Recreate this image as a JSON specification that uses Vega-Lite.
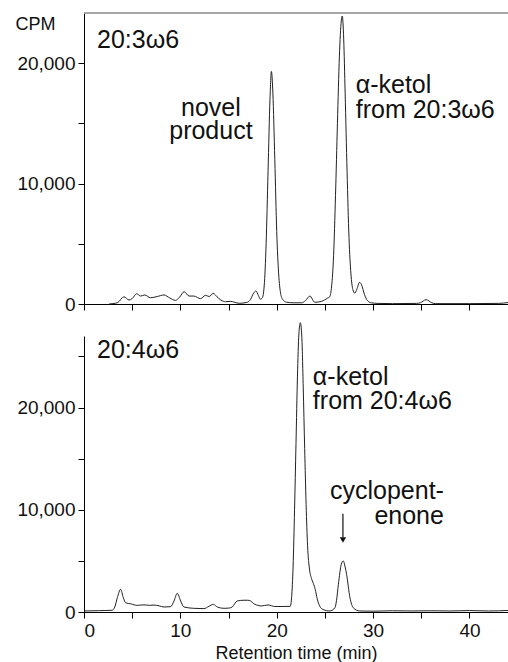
{
  "$schema": "https://vega.github.io/schema/vega-lite/v6.json",
  "padding": {"left": 15, "top": 12, "right": 0, "bottom": 0},
  "autosize": {"type": "pad"},
  "spacing": 32,
  "bounds": "flush",
  "config": {
    "font": "Liberation Sans",
    "view": {"stroke": null},
    "axis": {"domainColor": "#000", "tickColor": "#000", "labelColor": "#111", "titleColor": "#111", "labelFontSize": 19, "titleFontSize": 18, "titleFontWeight": "normal", "grid": false, "tickSize": 6, "labelPadding": 3, "domainWidth": 1, "tickWidth": 1}
  },
  "datasets": {
    "top": [
      {"t":2.6,"cpm":0},{"t":3.0,"cpm":30},{"t":3.5,"cpm":120},{"t":4.15,"cpm":600},{"t":4.67,"cpm":330},{"t":5.0,"cpm":450},{"t":5.46,"cpm":850},{"t":5.88,"cpm":660},{"t":6.3,"cpm":750},{"t":6.9,"cpm":520},{"t":7.6,"cpm":620},{"t":8.3,"cpm":750},{"t":8.9,"cpm":500},{"t":9.5,"cpm":300},{"t":9.9,"cpm":550},{"t":10.4,"cpm":1020},{"t":10.9,"cpm":660},{"t":11.4,"cpm":660},{"t":12.1,"cpm":440},{"t":12.6,"cpm":720},{"t":13.0,"cpm":620},{"t":13.4,"cpm":890},{"t":13.8,"cpm":600},{"t":14.2,"cpm":330},{"t":14.7,"cpm":190},{"t":15.2,"cpm":220},{"t":16.1,"cpm":60},{"t":16.9,"cpm":130},{"t":17.3,"cpm":400},{"t":17.6,"cpm":900},{"t":17.85,"cpm":1080},{"t":18.1,"cpm":700},{"t":18.3,"cpm":400},{"t":18.5,"cpm":500},{"t":18.7,"cpm":1500},{"t":18.9,"cpm":5000},{"t":19.1,"cpm":11000},{"t":19.3,"cpm":17000},{"t":19.45,"cpm":19300},{"t":19.6,"cpm":17500},{"t":19.8,"cpm":12000},{"t":20.0,"cpm":6000},{"t":20.2,"cpm":2500},{"t":20.4,"cpm":900},{"t":20.6,"cpm":400},{"t":21.0,"cpm":150},{"t":21.7,"cpm":100},{"t":22.6,"cpm":100},{"t":23.0,"cpm":300},{"t":23.44,"cpm":660},{"t":23.96,"cpm":140},{"t":24.65,"cpm":220},{"t":25.3,"cpm":500},{"t":25.5,"cpm":600},{"t":25.7,"cpm":1500},{"t":25.9,"cpm":4000},{"t":26.1,"cpm":9000},{"t":26.3,"cpm":15000},{"t":26.5,"cpm":20500},{"t":26.7,"cpm":23500},{"t":26.8,"cpm":23900},{"t":26.95,"cpm":22000},{"t":27.1,"cpm":17500},{"t":27.3,"cpm":11000},{"t":27.5,"cpm":5500},{"t":27.7,"cpm":2500},{"t":27.9,"cpm":1200},{"t":28.1,"cpm":900},{"t":28.3,"cpm":1200},{"t":28.6,"cpm":1800},{"t":28.8,"cpm":1600},{"t":29.1,"cpm":800},{"t":29.4,"cpm":300},{"t":29.8,"cpm":100},{"t":30.5,"cpm":50},{"t":32,"cpm":30},{"t":34.5,"cpm":50},{"t":34.9,"cpm":100},{"t":35.5,"cpm":360},{"t":36.1,"cpm":100},{"t":36.5,"cpm":30},{"t":40,"cpm":30},{"t":43,"cpm":50},{"t":44,"cpm":120}
    ],
    "bottom": [
      {"t":0,"cpm":100},{"t":1.5,"cpm":130},{"t":2.9,"cpm":170},{"t":3.2,"cpm":500},{"t":3.46,"cpm":1400},{"t":3.8,"cpm":2220},{"t":4.08,"cpm":1400},{"t":4.33,"cpm":900},{"t":4.84,"cpm":800},{"t":5.53,"cpm":650},{"t":6.22,"cpm":700},{"t":6.8,"cpm":650},{"t":7.26,"cpm":680},{"t":7.8,"cpm":600},{"t":8.3,"cpm":490},{"t":8.99,"cpm":520},{"t":9.34,"cpm":1080},{"t":9.68,"cpm":1830},{"t":10.03,"cpm":1080},{"t":10.37,"cpm":490},{"t":11.4,"cpm":360},{"t":12.45,"cpm":330},{"t":12.97,"cpm":560},{"t":13.42,"cpm":750},{"t":13.83,"cpm":490},{"t":14.52,"cpm":360},{"t":15.0,"cpm":380},{"t":15.38,"cpm":490},{"t":15.9,"cpm":1080},{"t":16.6,"cpm":1150},{"t":17.0,"cpm":1150},{"t":17.3,"cpm":1080},{"t":17.56,"cpm":850},{"t":17.9,"cpm":690},{"t":18.4,"cpm":590},{"t":19.1,"cpm":690},{"t":19.8,"cpm":540},{"t":20.66,"cpm":540},{"t":21.4,"cpm":550},{"t":21.55,"cpm":1500},{"t":21.7,"cpm":4500},{"t":21.85,"cpm":10000},{"t":22.0,"cpm":16500},{"t":22.15,"cpm":23000},{"t":22.3,"cpm":27200},{"t":22.45,"cpm":28300},{"t":22.6,"cpm":27000},{"t":22.75,"cpm":22000},{"t":22.9,"cpm":16000},{"t":23.05,"cpm":10500},{"t":23.2,"cpm":6500},{"t":23.4,"cpm":4200},{"t":23.6,"cpm":3300},{"t":23.8,"cpm":2800},{"t":24.0,"cpm":2200},{"t":24.2,"cpm":1300},{"t":24.45,"cpm":600},{"t":24.8,"cpm":250},{"t":25.5,"cpm":100},{"t":26.04,"cpm":420},{"t":26.2,"cpm":1100},{"t":26.4,"cpm":2710},{"t":26.7,"cpm":4670},{"t":26.9,"cpm":5000},{"t":27.1,"cpm":4400},{"t":27.25,"cpm":3690},{"t":27.6,"cpm":1400},{"t":27.94,"cpm":420},{"t":28.6,"cpm":100},{"t":30,"cpm":80},{"t":32,"cpm":120},{"t":34,"cpm":100},{"t":36,"cpm":120},{"t":38,"cpm":100},{"t":40,"cpm":140},{"t":42,"cpm":100},{"t":44,"cpm":150}
    ]
  },
  "vconcat": [
    {
      "width": 424,
      "height": 291,
      "encoding": {
        "x": {"field": "t", "type": "quantitative", "scale": {"domain": [0, 44], "nice": false}, "axis": {"values": [0,5,10,15,20,25,30,35,40], "labels": false, "title": null}},
        "y": {"field": "cpm", "type": "quantitative", "scale": {"domain": [0, 24150], "nice": false}, "axis": {"values": [0,5000,10000,15000,20000], "labelExpr": "datum.value % 10000 === 0 ? datum.label : ''", "title": "CPM", "titleAngle": 0, "titleAlign": "left", "titleBaseline": "alphabetic", "titleX": -69, "titleY": 16, "titleFontSize": 18}}
      },
      "layer": [
        {"data": {"values": [{"t": 0, "t2": 44, "cpm": 24150}]}, "mark": {"type": "rule", "color": "#888", "strokeWidth": 1.5}, "encoding": {"x2": {"field": "t2"}}},
        {"data": {"name": "top"}, "mark": {"type": "line", "interpolate": "monotone", "stroke": "#222", "strokeWidth": 1, "clip": false}},
        {"data": {"values": [{"t": 1.35, "cpm": 21245, "label": "20:3ω6"}, {"t": 28.2, "cpm": 17510, "label": "α-ketol\nfrom 20:3ω6"}]}, "mark": {"type": "text", "align": "left", "baseline": "alphabetic", "fontSize": 25, "lineBreak": "\n", "lineHeight": 25, "color": "#111"}, "encoding": {"text": {"field": "label"}}},
        {"data": {"values": [{"t": 13.17, "cpm": 15600, "label": "novel\nproduct"}]}, "mark": {"type": "text", "align": "center", "baseline": "alphabetic", "fontSize": 25, "lineBreak": "\n", "lineHeight": 23, "color": "#111"}, "encoding": {"text": {"field": "label"}}}
      ]
    },
    {
      "width": 424,
      "height": 276,
      "encoding": {
        "x": {"field": "t", "type": "quantitative", "scale": {"domain": [0, 44], "nice": false}, "axis": {"values": [0,5,10,15,20,25,30,35,40], "labelExpr": "datum.value % 10 === 0 ? datum.label : ''", "title": "Retention time (min)", "titlePadding": 4}},
        "y": {"field": "cpm", "type": "quantitative", "scale": {"domain": [0, 27000], "nice": false}, "axis": {"values": [0,5000,10000,15000,20000,25000], "labelExpr": "datum.value % 10000 === 0 ? datum.label : ''", "title": null}}
      },
      "layer": [
        {"data": {"name": "bottom"}, "mark": {"type": "line", "interpolate": "monotone", "stroke": "#222", "strokeWidth": 1, "clip": false}},
        {"data": {"values": [{"t": 1.35, "cpm": 24800, "label": "20:4ω6"}, {"t": 23.75, "cpm": 22250, "label": "α-ketol\nfrom 20:4ω6"}]}, "mark": {"type": "text", "align": "left", "baseline": "alphabetic", "fontSize": 25, "lineBreak": "\n", "lineHeight": 24, "color": "#111"}, "encoding": {"text": {"field": "label"}}},
        {"data": {"values": [{"t": 37.35, "cpm": 11080, "label": "cyclopent-\nenone"}]}, "mark": {"type": "text", "align": "right", "baseline": "alphabetic", "fontSize": 25, "lineBreak": "\n", "lineHeight": 25, "color": "#111"}, "encoding": {"text": {"field": "label"}}},
        {"data": {"values": [{"t": 26.87, "cpm": 9600, "cpm2": 7300}]}, "mark": {"type": "rule", "color": "#111", "strokeWidth": 1.2}, "encoding": {"y2": {"field": "cpm2"}}},
        {"data": {"values": [{"t": 26.87, "cpm": 7050}]}, "mark": {"type": "point", "shape": "triangle-down", "filled": true, "size": 40, "color": "#111", "opacity": 1}}
      ]
    }
  ]
}
